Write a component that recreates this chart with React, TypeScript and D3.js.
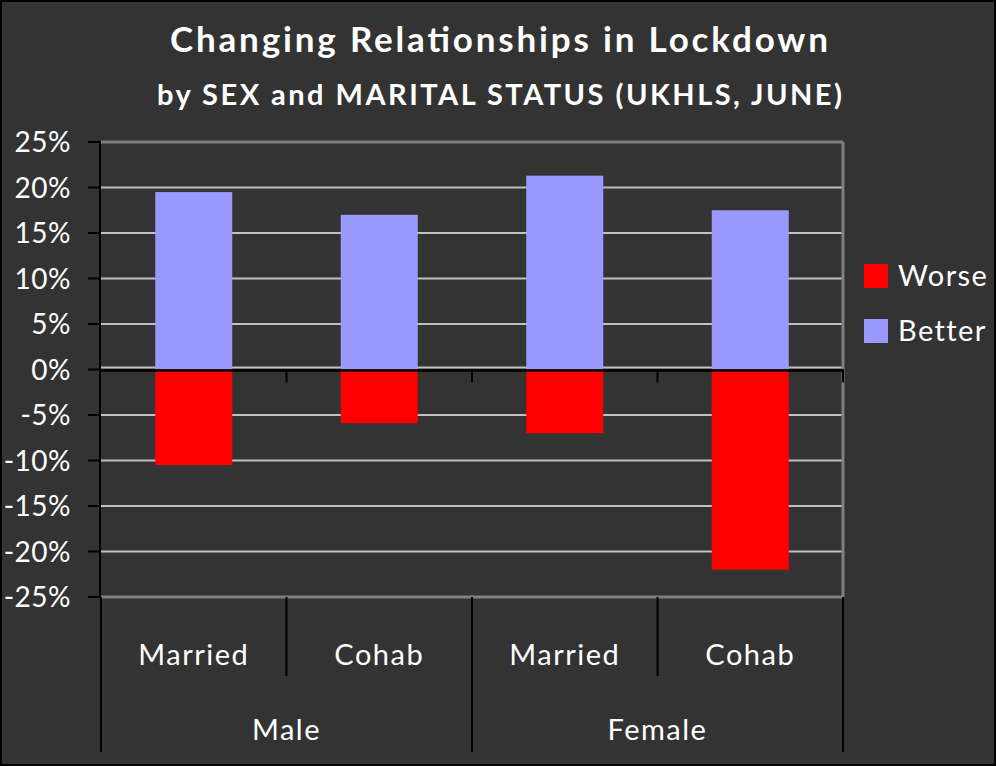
import * as d3 from "d3";

const categories = ["Married", "Cohab", "Married", "Cohab"];
const groups = ["Male", "Female"];
const better = [19.5, 17.0, 21.3, 17.5];
const worse = [-10.5, -5.9, -7.0, -22.0];
const yTicks = [25, 20, 15, 10, 5, 0, -5, -10, -15, -20, -25];
const seriesNames = ["Worse", "Better"];
const seriesColors = ["#ff0000", "#9999ff"];

const W = 996;
const H = 766;
const plot = { left: 101, right: 843, top: 142, bottom: 597 };
const font = "Lato, 'Open Sans', sans-serif";

export default function App() {
  const x = d3
    .scaleBand<number>()
    .domain(d3.range(categories.length))
    .range([plot.left, plot.right])
    .paddingInner(0.585)
    .paddingOuter(0.2925);
  const step = x.step();
  const y = d3.scaleLinear().domain([-25, 25]).range([plot.bottom, plot.top]);
  const y0 = y(0);
  const groupSize = categories.length / groups.length;
  const catEdge = (i: number) => plot.left + i * step;

  return (
    <svg
      width={W}
      height={H}
      style={{ position: "absolute", left: 0, top: 0, display: "block" }}
    >
      <rect x={0} y={0} width={W} height={H} fill="#000" />
      <rect x={2} y={2} width={W - 4} height={H - 4} fill="#333333" />

      {/* titles */}
      <text
        x={170}
        y={52}
        textLength={658}
        lengthAdjust="spacing"
        fill="#fff"
        fontFamily={font}
        fontWeight="bold"
        fontSize={35}
      >
        Changing Relationships in Lockdown
      </text>
      <text
        x={157}
        y={105}
        textLength={685}
        lengthAdjust="spacing"
        fill="#fff"
        fontFamily={font}
        fontWeight="bold"
        fontSize={29}
      >
        by SEX and MARITAL STATUS (UKHLS, JUNE)
      </text>

      {/* gridlines */}
      {yTicks.map((t) => (
        <line
          key={"g" + t}
          x1={plot.left}
          x2={plot.right}
          y1={y(t) - (t === 0 ? 2 : 0)}
          y2={y(t) - (t === 0 ? 2 : 0)}
          stroke={t === 25 || t === -25 ? "#808080" : "#c0c0c0"}
          strokeWidth={t === 25 || t === -25 ? 3 : 2}
        />
      ))}
      <line
        x1={plot.right}
        x2={plot.right}
        y1={plot.top}
        y2={plot.bottom}
        stroke="#808080"
        strokeWidth={3}
      />

      {/* bars */}
      {better.map((v, i) => (
        <rect
          key={"b" + i}
          x={x(i)}
          width={x.bandwidth()}
          y={y(v)}
          height={y0 - y(v)}
          fill={seriesColors[1]}
        />
      ))}
      {worse.map((v, i) => (
        <rect
          key={"w" + i}
          x={x(i)}
          width={x.bandwidth()}
          y={y0}
          height={y(v) - y0}
          fill={seriesColors[0]}
        />
      ))}

      {/* y axis */}
      <line
        x1={plot.left - 1}
        x2={plot.left - 1}
        y1={plot.top - 1}
        y2={plot.bottom + 1}
        stroke="#000"
        strokeWidth={2}
      />
      {yTicks.map((t) => (
        <g key={"t" + t}>
          <line
            x1={plot.left - 13}
            x2={plot.left}
            y1={y(t)}
            y2={y(t)}
            stroke="#000"
            strokeWidth={2}
          />
          <text
            x={71}
            y={y(t)}
            dy="0.36em"
            textAnchor="end"
            fill="#fff"
            fontFamily={font}
            fontSize={28}
            letterSpacing={0.5}
          >
            {t + "%"}
          </text>
        </g>
      ))}

      {/* zero axis */}
      <line
        x1={plot.left}
        x2={plot.right + 1}
        y1={y0 + 1}
        y2={y0 + 1}
        stroke="#000"
        strokeWidth={2.5}
      />
      {d3.range(1, categories.length + 1).map((i) => (
        <line
          key={"z" + i}
          x1={catEdge(i)}
          x2={catEdge(i)}
          y1={y0}
          y2={y0 + 13}
          stroke="#000"
          strokeWidth={2}
        />
      ))}

      {/* category axis dividers */}
      {d3.range(0, categories.length + 1).map((i) => (
        <line
          key={"d" + i}
          x1={catEdge(i)}
          x2={catEdge(i)}
          y1={plot.bottom}
          y2={i % groupSize === 0 ? 752 : 676}
          stroke="#000"
          strokeWidth={2}
        />
      ))}
      {categories.map((c, i) => (
        <text
          key={"c" + i}
          x={catEdge(i) + step / 2}
          y={655}
          dy="0.36em"
          textAnchor="middle"
          fill="#fff"
          fontFamily={font}
          fontSize={29}
          letterSpacing={1.5}
        >
          {c}
        </text>
      ))}
      {groups.map((g, gi) => (
        <text
          key={"gr" + g}
          x={catEdge(gi * groupSize) + (step * groupSize) / 2}
          y={730}
          dy="0.36em"
          textAnchor="middle"
          fill="#fff"
          fontFamily={font}
          fontSize={29}
          letterSpacing={1.5}
        >
          {g}
        </text>
      ))}

      {/* legend */}
      {seriesNames.map((s, i) => (
        <g key={"l" + s} transform={`translate(864, ${264 + i * 55})`}>
          <rect width={24} height={24} fill={seriesColors[i]} />
          <text
            x={34}
            y={12}
            dy="0.36em"
            fill="#fff"
            fontFamily={font}
            fontSize={29}
            letterSpacing={1.4}
          >
            {s}
          </text>
        </g>
      ))}
    </svg>
  );
}
